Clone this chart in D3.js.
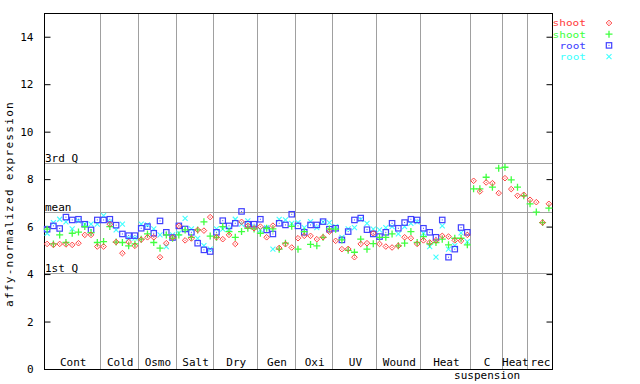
<!DOCTYPE html>
<html><head><meta charset="utf-8">
<script src="https://cdn.jsdelivr.net/npm/d3@7"></script>
<style>
body{margin:0;background:#fff;}
svg text{font-family:"DejaVu Sans Mono",monospace;font-size:11px;}
</style></head><body>
<svg id="c" width="640" height="384"></svg>
<script>
const categories = ["Cont","Cold","Osmo","Salt","Dry","Gen","Oxi","UV","Wound","Heat","C\nsuspension","Heat","rec"];
const counts = [9,6,6,6,7,6,6,7,7,8,5,4,4];
const yTicks = [0,2,4,6,8,10,12,14];
const refLines = [{label:"3rd Q", v:8.67},{label:"mean", v:6.62},{label:"1st Q", v:4.06}];
const seriesNames = ["shoot","shoot","root","root"];
const seriesColors = ["#ff4040","#40ff40","#4040ff","#40ffff"];

const shoot1 = [5.27,5.23,5.27,5.25,5.23,5.30,5.65,5.65,5.16,
 5.16,6.10,5.35,4.88,5.35,5.19,
 5.45,5.55,5.55,4.71,5.30,5.54,
 6.03,5.42,5.50,5.86,5.83,6.40,
 5.55,5.47,5.65,5.27,6.20,6.03,5.93,
 6.00,5.55,6.04,5.10,5.26,5.12,
 5.51,5.61,5.61,5.47,5.55,5.79,
 5.40,5.05,5.06,4.71,5.27,5.30,5.72,
 5.27,5.16,5.12,5.19,5.55,5.51,5.27,
 5.42,5.33,5.42,5.61,5.58,5.42,5.40,5.65,
 7.93,7.48,7.86,7.83,7.41,
 8.04,7.58,7.30,7.34,
 7.13,7.03,6.17,6.96];
const shoot2 = [5.89,5.27,5.65,5.33,5.72,5.77,6.00,5.75,5.33,
 5.37,6.00,5.35,5.33,5.19,5.27,
 5.47,5.69,5.33,5.09,5.65,5.51,
 5.65,5.86,5.55,5.86,6.20,5.60,
 5.55,6.00,5.79,5.55,5.79,5.93,5.90,
 5.72,5.93,5.90,5.05,5.30,6.01,
 5.05,5.79,5.25,5.19,5.55,5.90,
 5.89,5.44,5.00,4.92,5.47,5.05,5.28,
 5.55,5.55,5.69,5.19,5.30,5.79,5.33,
 5.58,5.27,5.33,5.47,5.23,5.51,5.51,5.23,
 7.59,7.59,8.08,7.66,8.46,
 8.50,7.97,7.66,7.30,
 6.96,6.61,6.17,6.78];
const root1 = [5.89,6.03,5.92,6.40,6.28,6.31,6.10,5.86,6.28,
 6.28,6.31,6.06,5.69,5.62,5.62,
 5.93,6.00,5.72,6.24,5.76,5.54,
 6.03,5.90,5.76,5.30,5.02,4.95,
 5.76,6.25,6.03,6.14,6.64,6.10,6.10,
 6.31,5.86,5.69,6.14,6.07,6.52,
 6.03,5.76,6.07,6.07,6.21,5.89,
 5.93,5.44,5.79,6.28,6.36,5.87,5.69,
 5.58,5.76,6.14,5.93,6.17,6.31,6.28,
 5.93,5.76,5.55,6.28,4.71,5.05,5.96,5.76,
 null,null,null,null,null,null,null,null,null,null,null,null,null];
const root2 = [5.72,6.17,6.31,6.20,5.90,6.24,6.10,6.10,6.10,
 6.46,6.20,5.86,6.10,5.51,5.51,
 6.10,6.07,5.90,5.65,5.16,5.65,
 5.72,6.35,5.90,5.50,5.20,5.05,
 5.90,5.89,5.90,6.31,6.10,6.24,5.99,
 5.86,5.96,5.05,6.30,6.28,6.14,
 6.17,5.96,6.21,5.96,6.20,6.17,
 6.00,5.55,5.90,5.96,6.30,6.14,5.89,
 5.86,5.96,6.00,5.69,6.00,6.14,6.20,
 5.72,5.16,4.71,6.03,5.05,5.20,5.74,5.37,
 null,null,null,null,null,null,null,null,null,null,null,null,null];

const series = [shoot1, shoot2, root1, root2];
const N = d3.sum(counts);
const L=44, R=552, T=13, B=369;
const x = d3.scaleLinear().domain([0,N]).range([L,R]);
const y = d3.scaleLinear().domain([0,15]).range([B,T]);
const svg = d3.select("#c");

// separators
let cum = 0;
const bounds = counts.map(c => { const s = cum; cum += c; return [s, cum]; });
svg.append("g").selectAll("line").data(bounds.slice(0,-1)).join("line")
  .attr("x1",d=>Math.round(x(d[1]))+0.5).attr("x2",d=>Math.round(x(d[1]))+0.5)
  .attr("y1",T).attr("y2",B).attr("stroke","#a0a0a0").attr("stroke-width",1);

// reference lines
svg.append("g").selectAll("line").data(refLines).join("line")
  .attr("x1",L).attr("x2",R).attr("y1",d=>Math.round(y(d.v))+0.5).attr("y2",d=>Math.round(y(d.v))+0.5)
  .attr("stroke","#a0a0a0").attr("stroke-width",1);
svg.append("g").selectAll("text").data(refLines).join("text")
  .attr("x",L+1).attr("y",d=>Math.round(y(d.v))-1.5).text(d=>d.label).attr("fill","#000");

// axes
const yAxisL = d3.axisLeft(y).tickValues(yTicks).tickSize(-6).tickPadding(11).tickFormat(d3.format("d"));
const gL = svg.append("g").attr("transform",`translate(${L+0.5},0)`).call(yAxisL);
gL.select(".domain").remove();
gL.selectAll("line").attr("stroke","#000");
gL.selectAll("text").style("font-family","DejaVu Sans Mono").style("font-size","11px").attr("fill","#000");
const yAxisR = d3.axisRight(y).tickValues(yTicks).tickSize(-6).tickFormat("");
const gR = svg.append("g").attr("transform",`translate(${R+0.5},0)`).call(yAxisR);
gR.select(".domain").remove();
gR.selectAll("line").attr("stroke","#000");

svg.append("rect").attr("x",L+0.5).attr("y",T+0.5).attr("width",R-L).attr("height",B-T)
  .attr("fill","none").attr("stroke","#000").attr("stroke-width",1);

// category labels
const lab = svg.append("g");
bounds.forEach((b,i)=>{
  const cx = (x(b[0])+x(b[1]))/2;
  const parts = categories[i].split("\n");
  parts.forEach((p,j)=>{
    lab.append("text").attr("x",cx+1).attr("y",366+j*13).attr("text-anchor","middle").text(p);
  });
});

// y label
svg.append("text").attr("transform","translate(13,204) rotate(-90)").attr("text-anchor","middle")
  .style("letter-spacing","1.3px").text("affy-normalized expression");

// markers
function marker(g, k, color){
  if(k===0){
    g.append("path").attr("d","M0,-2.8L2.8,0L0,2.8L-2.8,0Z").attr("fill","none").attr("stroke",color).attr("stroke-width",1);
    g.append("rect").attr("x",-0.5).attr("y",-0.5).attr("width",1).attr("height",1).attr("fill",color);
  } else if(k===1){
    g.append("path").attr("d","M-3.5,0H3.5M0,-3.5V3.5").attr("stroke",color).attr("stroke-width",1.3);
  } else if(k===2){
    g.append("rect").attr("x",-2.7).attr("y",-2.7).attr("width",5.4).attr("height",5.4).attr("fill","none").attr("stroke",color).attr("stroke-width",1.2);
    g.append("rect").attr("x",-0.5).attr("y",-0.5).attr("width",1).attr("height",1).attr("fill",color);
  } else {
    g.append("path").attr("d","M-2.5,-2.5L2.5,2.5M-2.5,2.5L2.5,-2.5").attr("stroke",color).attr("stroke-width",1.1);
  }
}
[3,2,1,0].forEach(k=>{
  const g = svg.append("g");
  series[k].forEach((v,i)=>{
    if(v==null) return;
    const m = g.append("g").attr("transform",`translate(${x(i+0.5)},${y(v)})`);
    marker(m,k,seriesColors[k]);
  });
});

// legend
seriesNames.forEach((n,k)=>{
  const yy = 23 + k*11.2;
  const w = n.length*6.9 - 1;
  svg.append("text").attr("x",586 - w).attr("y",yy+3.3)
    .style("font-size","9.4px").attr("textLength",w).attr("lengthAdjust","spacingAndGlyphs")
    .attr("fill",seriesColors[k]).text(n);
  const m = svg.append("g").attr("transform",`translate(609,${yy})`);
  marker(m,k,seriesColors[k]);
});
</script></body></html>
